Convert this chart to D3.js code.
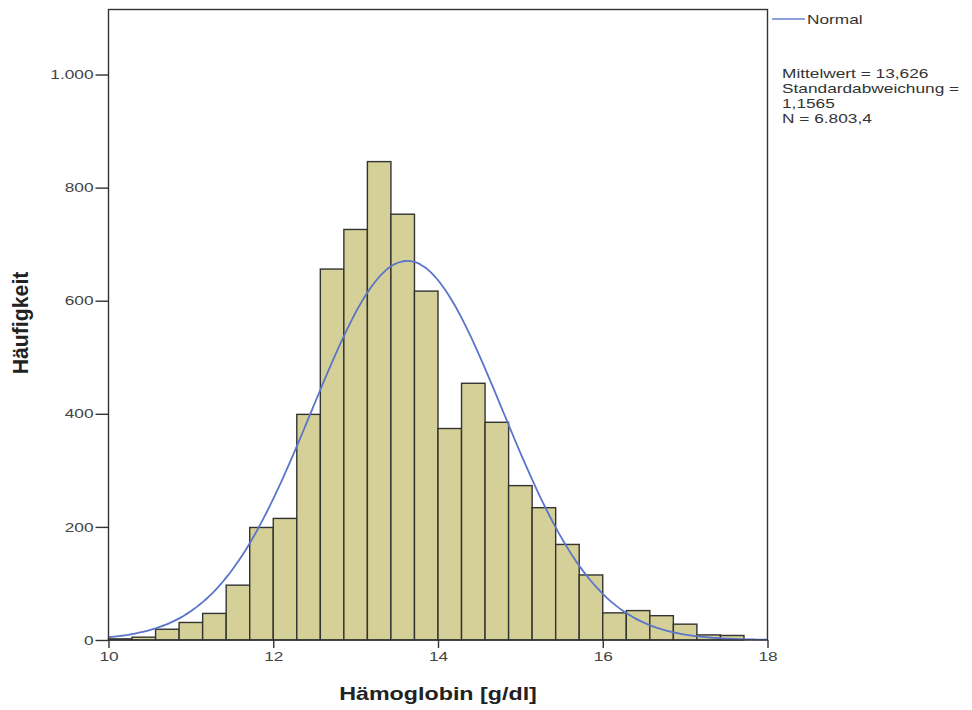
<!DOCTYPE html>
<html>
<head>
<meta charset="utf-8">
<script src="https://cdn.jsdelivr.net/npm/d3@7"></script>
<style>
  body { margin: 0; background: #fff; }
  text { font-family: "Liberation Sans", Arial, sans-serif; }
</style>
</head>
<body>
<div id="chart"></div>
<script>
// histogram counts, 28 bins of width 2/7 starting at 10
const binStart = 10;
const binWidth = 2 / 7;
const counts = [2, 5, 19, 31, 47, 97, 199, 215, 399, 656, 726, 846, 753, 617,
                374, 454, 385, 273, 234, 169, 115, 48, 52, 43, 28, 9, 8, 0];
const xTicks = [10, 12, 14, 16, 18];
const yTicks = [0, 200, 400, 600, 800, 1000];
// fitted normal curve parameters (as printed in the legend)
const fitMean = 13.626;
const fitSd = 1.1565;
const fitN = 6803.4;
const statLines = ["Mittelwert = 13,626", "Standardabweichung =", "1,1565", "N = 6.803,4"];

const width = 972, height = 710;
const plot = { left: 108.5, right: 767.5, top: 9.5, bottom: 640 };
const sx = 1.33; // the reference text is stretched horizontally
const barFill = "#d5d097";
const lineColor = "#333";
const curveColor = "#5b76c9";

const de = d3.formatLocale({ decimal: ",", thousands: ".", grouping: [3], currency: ["", " €"] });
const fmt = de.format(",");

const svg = d3.select("#chart").append("svg")
  .attr("width", width)
  .attr("height", height);

const x = d3.scaleLinear().domain([10, 18]).range([plot.left, plot.right]);
const y = d3.scaleLinear().domain([0, 1115]).range([plot.bottom, plot.top]);

// bars
const bins = counts.map((c, i) => ({ x0: binStart + i * binWidth, x1: binStart + (i + 1) * binWidth, count: c }));
svg.append("g")
  .selectAll("rect")
  .data(bins.filter(d => d.count > 0))
  .enter()
  .append("rect")
    .attr("x", d => x(d.x0))
    .attr("y", d => y(d.count))
    .attr("width", d => x(d.x1) - x(d.x0))
    .attr("height", d => y(0) - y(d.count))
    .attr("fill", barFill)
    .attr("stroke", lineColor)
    .attr("stroke-width", 1.4);

// normal curve
const curvePts = d3.range(0, 201).map(i => {
  const v = 10 + i * 8 / 200;
  const z = (v - fitMean) / fitSd;
  return [v, fitN * binWidth * Math.exp(-0.5 * z * z) / (fitSd * Math.sqrt(2 * Math.PI))];
});
svg.append("path")
  .datum(curvePts)
  .attr("fill", "none")
  .attr("stroke", curveColor)
  .attr("stroke-width", 1.8)
  .attr("d", d3.line().x(d => x(d[0])).y(d => y(d[1])).curve(d3.curveBasis));

// frame
svg.append("rect")
  .attr("x", plot.left).attr("y", plot.top)
  .attr("width", plot.right - plot.left).attr("height", plot.bottom - plot.top)
  .attr("fill", "none")
  .attr("stroke", lineColor)
  .attr("stroke-width", 1.4);

// axes
const xAxis = svg.append("g")
  .attr("transform", `translate(0,${plot.bottom})`)
  .call(d3.axisBottom(x).tickValues(xTicks).tickSize(8).tickPadding(4).tickFormat(fmt));
const yAxis = svg.append("g")
  .attr("transform", `translate(${plot.left},0)`)
  .call(d3.axisLeft(y).tickValues(yTicks).tickSize(13).tickPadding(2).tickFormat(fmt));

[xAxis, yAxis].forEach(a => {
  a.select(".domain").remove();
  a.selectAll(".tick line").attr("stroke", lineColor).attr("stroke-width", 1.4);
  a.selectAll(".tick text")
    .attr("fill", "#444")
    .style("font-size", "13px")
    .style("font-family", "'Liberation Sans', Arial, sans-serif");
});
xAxis.selectAll(".tick text").attr("transform", `scale(${sx},1)`);
yAxis.selectAll(".tick text").attr("x", -15 / sx).attr("transform", `scale(${sx},1)`);

// axis titles
svg.append("text")
  .attr("transform", `translate(438,700) scale(${sx},1)`)
  .attr("text-anchor", "middle")
  .style("font-size", "17.5px")
  .style("font-weight", "bold")
  .attr("fill", "#222")
  .text("Hämoglobin [g/dl]");

svg.append("text")
  .attr("transform", `translate(28,323) rotate(-90) scale(1.25,${sx})`)
  .attr("text-anchor", "middle")
  .style("font-size", "17px")
  .style("font-weight", "bold")
  .attr("fill", "#222")
  .text("Häufigkeit");

// legend
svg.append("line")
  .attr("x1", 772).attr("x2", 805)
  .attr("y1", 19).attr("y2", 19)
  .attr("stroke", "#8fa1dc")
  .attr("stroke-width", 2);
svg.append("text")
  .attr("transform", `translate(807,24) scale(${sx},1)`)
  .style("font-size", "13px")
  .attr("fill", "#333")
  .text("Normal");

svg.append("g")
  .selectAll("text")
  .data(statLines)
  .enter()
  .append("text")
    .attr("transform", (d, i) => `translate(782,${78 + i * 15}) scale(${sx},1)`)
    .style("font-size", "13px")
    .attr("fill", "#333")
    .text(d => d);
</script>
</body>
</html>
